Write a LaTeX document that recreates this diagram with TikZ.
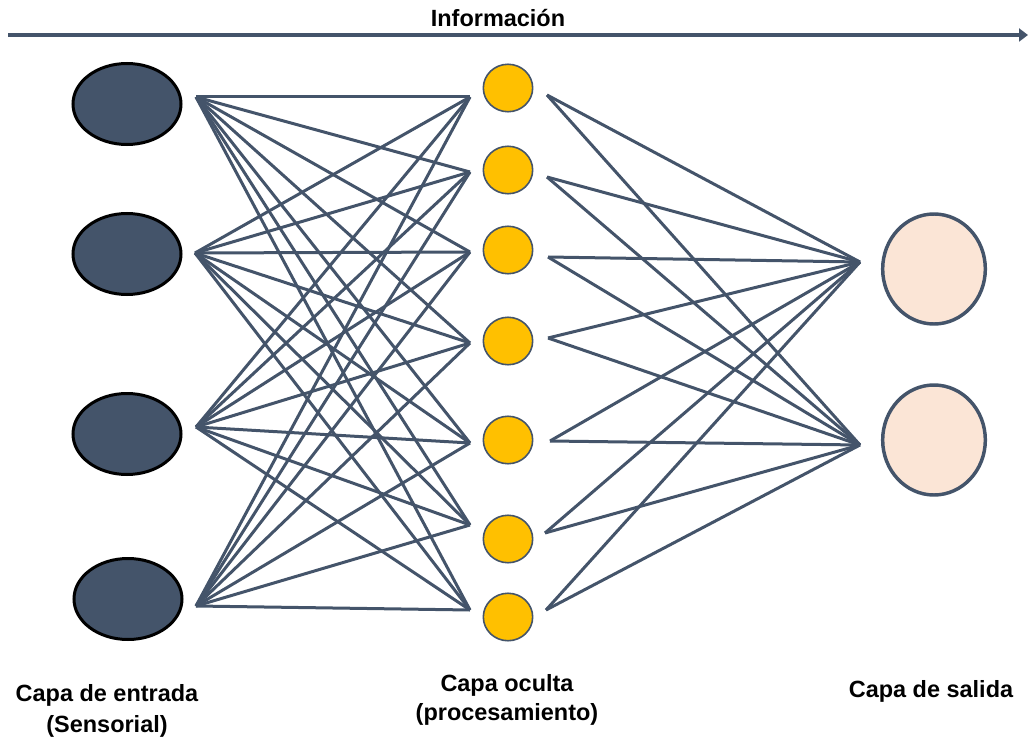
\documentclass[tikz,border=0pt]{standalone}
\usepackage{fontspec}
\setmainfont{Liberation Sans}
\usetikzlibrary{shapes.geometric,arrows.meta}
\definecolor{slate}{HTML}{44546A}
\definecolor{amber}{HTML}{FFC000}
\definecolor{peach}{HTML}{FBE5D6}
\tikzset{
  inputunit/.style={ellipse, draw=black, line width=2.25pt, fill=slate,
    minimum width=81pt, minimum height=60.75pt, inner sep=0pt},
  hiddenunit/.style={ellipse, draw=slate, line width=1.2pt, fill=amber,
    minimum width=37pt, minimum height=35.6pt, inner sep=0pt},
  outputunit/.style={ellipse, draw=slate, line width=2.6pt, fill=peach,
    minimum width=77pt, minimum height=82.5pt, inner sep=0pt},
  link/.style={draw=slate, line width=2.25pt},
  caption/.style={font=\fontsize{17.6pt}{21.4pt}\selectfont\bfseries,
    align=center, inner sep=0pt}
}
\begin{document}
\begin{tikzpicture}[x=0.75pt, y=-0.75pt]
  \useasboundingbox (0,0) rectangle (1028,738);

  % information flow arrow
  \coordinate (flowL) at (8,35);
  \coordinate (flowR) at (1028,35);
  \draw[draw=slate, line width=3pt, -{Triangle[length=6.75pt,width=9.75pt]}] (flowL) -- (flowR);
  \node[caption] (flowtxt) at (498,18.5) {Información};

  % input layer
  \node[inputunit] (i1) at (127,104) {};
  \node[inputunit] (i2) at (127,254) {};
  \node[inputunit] (i3) at (127,434) {};
  \node[inputunit] (i4) at (128,599) {};
  \coordinate (io1) at (196,97);
  \coordinate (io2) at (195,253);
  \coordinate (io3) at (196,427);
  \coordinate (io4) at (196,606);

  % hidden layer
  \foreach \k/\y in {1/88,2/170,3/250,4/341,5/440,6/539,7/617}
    \node[hiddenunit] (h\k) at (508,\y) {};
  \foreach \k/\y in {1/97,2/172,3/252,4/343,5/443,6/525,7/610}
    \coordinate (hi\k) at (470,\y);
  \coordinate (ho1) at (547,95);
  \coordinate (ho2) at (547,177);
  \coordinate (ho3) at (548,257);
  \coordinate (ho4) at (548,338);
  \coordinate (ho5) at (550,441);
  \coordinate (ho6) at (545,533);
  \coordinate (ho7) at (546,610);

  % output layer
  \node[outputunit] (o1) at (934,269) {};
  \node[outputunit] (o2) at (934,440) {};
  \coordinate (oi1) at (860,262);
  \coordinate (oi2) at (860,445);

  % weighted connections
  \foreach \a in {1,...,4}
    \foreach \b in {1,...,7}
      \draw[link] (io\a) -- (hi\b);
  \foreach \b in {1,...,7}
    \foreach \c in {1,2}
      \draw[link] (ho\b) -- (oi\c);

  % layer captions
  \node[caption] (capin) at (107,711) {Capa de entrada\\[2pt](Sensorial)};
  \node[caption] (caphid) at (507,700) {Capa oculta\\(procesamiento)};
  \node[caption] (capout) at (931,691) {Capa de salida};
\end{tikzpicture}
\end{document}
